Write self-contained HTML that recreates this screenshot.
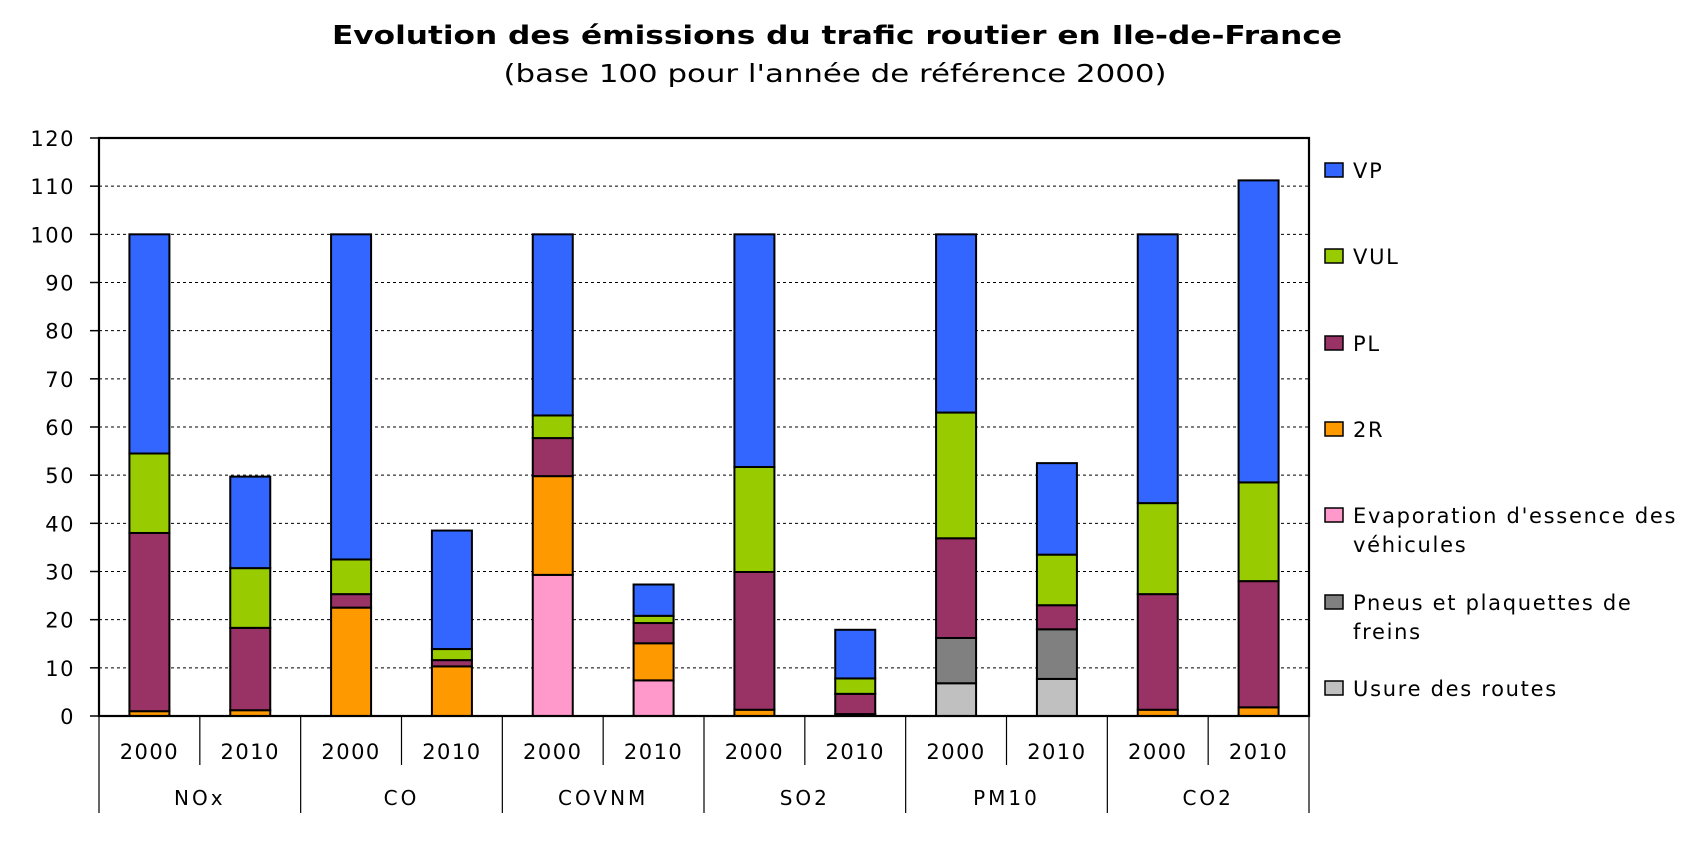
<!DOCTYPE html>
<html><head><meta charset="utf-8"><style>
html,body{margin:0;padding:0;background:#fff;}
svg{display:block;font-family:"DejaVu Sans","Liberation Sans",sans-serif;}
</style></head><body>
<svg id="chart" width="1705" height="844" viewBox="0 0 1705 844" xmlns="http://www.w3.org/2000/svg">
<text x="837" y="44" text-anchor="middle" font-size="26" font-weight="bold" textLength="1010" lengthAdjust="spacingAndGlyphs">Evolution des émissions du trafic routier en Ile-de-France</text>
<text x="835" y="82" text-anchor="middle" font-size="25" textLength="663" lengthAdjust="spacingAndGlyphs">(base 100 pour l'année de référence 2000)</text>
<g id="grid"></g><g id="bars"></g><g id="axes"></g><g id="legend"></g>
</svg>
<script>
const pollutants = ["NOx","CO","COVNM","SO2","PM10","CO2"];
const years = ["2000","2010"];
const seriesNames = ["Usure des routes","Pneus et plaquettes de freins","Evaporation d'essence des véhicules","2R","PL","VUL","VP"];
const seriesColors = ["#C0C0C0","#808080","#FF99CC","#FF9900","#993366","#99CC00","#3366FF"];
// segment values per bar (bottom->top order: usure, pneus, evap, 2R, PL, VUL, VP)
const usure = [0,0, 0,0, 0,0, 0,0, 6.8,7.7, 0,0];
const pneus = [0,0, 0,0, 0,0, 0,0, 9.4,10.3, 0,0];
const evap  = [0,0, 0,0, 29.3,7.4, 0,0, 0,0, 0,0];
const deuxR = [1,1.2, 22.5,10.3, 20.5,7.7, 1.3,0.4, 0,0, 1.3,1.8];
const pl    = [37,17.1, 2.8,1.3, 7.9,4.2, 28.6,4.2, 20.7,5, 24,26.2];
const vul   = [16.5,12.4, 7.2,2.3, 4.7,1.5, 21.8,3.2, 26.1,10.5, 18.9,20.5];
const vp    = [45.5,19, 67.5,24.6, 37.6,6.5, 48.3,10.1, 37,19, 55.8,62.7];
const yTicks = [0,10,20,30,40,50,60,70,80,90,100,110,120];

const NS="http://www.w3.org/2000/svg";
const L=99,R=1309,T=138,B=716,YMAX=120;
const slot=(R-L)/12, barW=40;
const y=v=>B-(v/YMAX)*(B-T);
const xc=i=>L+slot*(i+0.5);
function mk(tag,attrs,parent,text){const e=document.createElementNS(NS,tag);for(const k in attrs)e.setAttribute(k,attrs[k]);if(text!==undefined)e.textContent=text;parent.appendChild(e);return e;}
const grid=document.getElementById('grid'),bars=document.getElementById('bars'),axes=document.getElementById('axes'),leg=document.getElementById('legend');
yTicks.forEach(t=>{
  if(t>0&&t<YMAX){const g=mk('line',{x1:L,x2:R,y1:y(t),y2:y(t),stroke:'#000','stroke-width':1,'stroke-dasharray':'3,3'},grid);
  
  }
  const tk=mk('line',{x1:L-9,x2:L,y1:y(t),y2:y(t),stroke:'#000','stroke-width':1.5},axes);
  
  
  const lb=mk('text',{x:75,y:y(t)+8,'text-anchor':'end','font-size':21,'letter-spacing':'1.5'},axes,String(t));
  
  
});
const series=[usure,pneus,evap,deuxR,pl,vul,vp];
for(let i=0;i<12;i++){
  let base=0;
  series.forEach((s,k)=>{
    const v=s[i]; if(v<=0)return;
    const r=mk('rect',{x:xc(i)-barW/2,y:y(base+v),width:barW,height:y(base)-y(base+v),fill:seriesColors[k],stroke:'#000','stroke-width':2},bars);
    
    
    base+=v;
  });
}
const frame=mk('rect',{x:L,y:T,width:R-L,height:B-T,fill:'none',stroke:'#000','stroke-width':2.2},axes);


for(let i=0;i<=12;i++){
  const x=L+slot*i;
  const ln=mk('line',{x1:x,x2:x,y1:B,y2:(i%2===0)?813:765,stroke:'#000','stroke-width':1.2},axes);
  
  
  if(i<12){
    const yl=mk('text',{x:xc(i),y:759,'text-anchor':'middle','font-size':21,'letter-spacing':'1.5'},axes,years[i%2]);
    
    
  }
}
pollutants.forEach((p,j)=>{
  const t=mk('text',{x:L+slot*(2*j+1),y:805,'text-anchor':'middle','font-size':20,'letter-spacing':'3'},axes,p);
  
  
});
const legItems=[[6,["VP"],170],[5,["VUL"],256],[4,["PL"],343],[3,["2R"],429],[2,["Evaporation d'essence des","véhicules"],515],[1,["Pneus et plaquettes de","freins"],602],[0,["Usure des routes"],688]];
legItems.forEach(([k,lines,cy])=>{
  const sw=mk('rect',{x:1325,y:cy-7,width:18,height:14,fill:seriesColors[k],stroke:'#000','stroke-width':1.5},leg);
  
  
  lines.forEach((ln,n)=>{
    const t=mk('text',{x:1353,y:cy+8+n*29,'font-size':21,'letter-spacing':'1.7'},leg,ln);
    
    
  });
});
</script>
</body></html>
